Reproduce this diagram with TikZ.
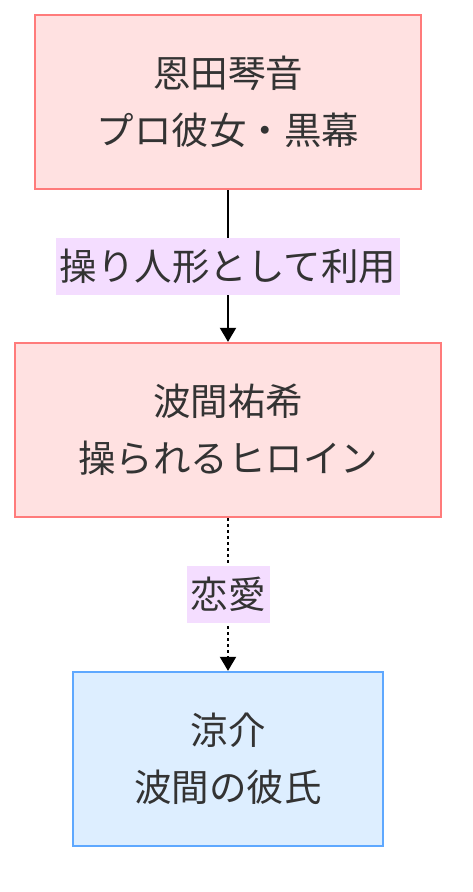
\documentclass[tikz,border=0pt]{standalone}
\usepackage{fontspec}
\setmainfont{Noto Sans CJK JP}
\usetikzlibrary{arrows.meta}

\definecolor{villainfill}{HTML}{FFE1E1}
\definecolor{villainline}{HTML}{FF7B7B}
\definecolor{heroinefill}{HTML}{FFE1E1}
\definecolor{bfill}{HTML}{DDEEFF}
\definecolor{bline}{HTML}{5EA8FF}
\definecolor{lblfill}{HTML}{F4DDFF}
\definecolor{txt}{HTML}{333333}

\tikzset{
    chara/.style={draw, line width=2.3pt, align=center, minimum height=174pt,
        inner sep=0pt, text=txt, font=\fontsize{37.5}{57}\selectfont},
    pinkbox/.style={chara, draw=villainline, fill=villainfill},
    bluebox/.style={chara, draw=bline, fill=bfill},
    rel/.style={line width=2pt, -{Triangle[width=16pt,length=14pt]}},
    lbl/.style={fill=lblfill, text=txt, inner xsep=4pt, inner ysep=0pt,
        minimum height=57pt, font=\fontsize{37.5}{45}\selectfont},
}

\begin{document}
\begin{tikzpicture}[x=1pt,y=-1pt]
    \useasboundingbox (0,0) rectangle (472,892);

    \node [pinkbox, minimum width=386pt] (kotone) at (228,102) {恩田琴音\\プロ彼女・黒幕};
    \node [pinkbox, minimum width=426pt] (yuki)   at (228,430) {波間祐希\\操られるヒロイン};
    \node [bluebox, minimum width=310pt] (ryosuke) at (228,759) {涼介\\波間の彼氏};

    \draw [rel] (kotone) -- node [lbl] (use) {操り人形として利用} (yuki);
    \draw [rel, dash pattern=on 3pt off 3pt] (yuki) -- node [lbl] (love) {恋愛} (ryosuke);

\end{tikzpicture}
\end{document}
